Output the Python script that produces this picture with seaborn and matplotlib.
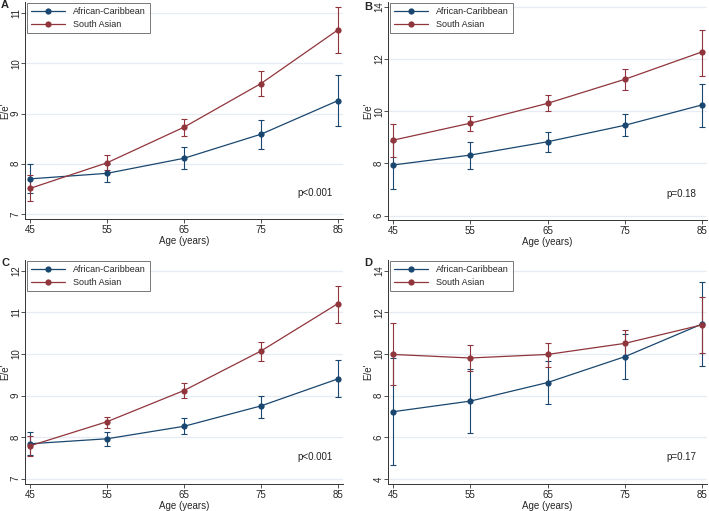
import matplotlib
matplotlib.use("Agg")
import matplotlib.pyplot as plt
from matplotlib.lines import Line2D
import pandas as pd
import seaborn as sns

ages = [45, 55, 65, 75, 85]
groups = ["African-Caribbean", "South Asian"]

# panel A
a_ac = [7.70, 7.81, 8.11, 8.59, 9.26]
a_ac_lo = [7.41, 7.63, 7.89, 8.30, 8.75]
a_ac_hi = [7.99, 7.99, 8.33, 8.88, 9.77]
a_sa = [7.51, 8.02, 8.73, 9.60, 10.67]
a_sa_lo = [7.25, 7.88, 8.55, 9.35, 10.20]
a_sa_hi = [7.77, 8.17, 8.90, 9.85, 11.13]

# panel B
b_ac = [7.94, 8.32, 8.83, 9.46, 10.24]
b_ac_lo = [7.01, 7.79, 8.43, 9.04, 9.41]
b_ac_hi = [8.87, 8.83, 9.22, 9.90, 11.04]
b_sa = [8.89, 9.54, 10.30, 11.22, 12.27]
b_sa_lo = [8.26, 9.24, 10.00, 10.81, 11.35]
b_sa_hi = [9.51, 9.82, 10.61, 11.61, 13.11]

# panel C
c_ac = [7.84, 7.96, 8.26, 8.75, 9.40]
c_ac_lo = [7.57, 7.79, 8.07, 8.47, 8.96]
c_ac_hi = [8.12, 8.13, 8.45, 8.98, 9.85]
c_sa = [7.79, 8.37, 9.12, 10.07, 11.21]
c_sa_lo = [7.54, 8.23, 8.95, 9.84, 10.74]
c_sa_hi = [8.03, 8.49, 9.29, 10.29, 11.64]

# panel D
d_ac = [7.23, 7.74, 8.63, 9.87, 11.44]
d_ac_lo = [4.67, 6.21, 7.60, 8.78, 9.42]
d_ac_hi = [9.79, 9.27, 9.66, 10.96, 13.47]
d_sa = [9.98, 9.81, 9.98, 10.51, 11.40]
d_sa_lo = [8.51, 9.18, 9.40, 9.87, 10.07]
d_sa_hi = [11.47, 10.43, 10.55, 11.15, 12.72]

p_values = ["p<0.001", "p=0.18", "p<0.001", "p=0.17"]
panel_letters = ["A", "B", "C", "D"]
y_ticks = [[7, 8, 9, 10, 11], [6, 8, 10, 12, 14], [7, 8, 9, 10, 11, 12], [4, 6, 8, 10, 12, 14]]

NAVY = "#1a476f"
MAROON = "#90353b"
GRID = "#e6ecf2"
palette = {groups[0]: NAVY, groups[1]: MAROON}

sns.set_style("ticks")
plt.rcParams["font.family"] = ["Liberation Sans", "DejaVu Sans"]

panels = [
    (a_ac, a_ac_lo, a_ac_hi, a_sa, a_sa_lo, a_sa_hi),
    (b_ac, b_ac_lo, b_ac_hi, b_sa, b_sa_lo, b_sa_hi),
    (c_ac, c_ac_lo, c_ac_hi, c_sa, c_sa_lo, c_sa_hi),
    (d_ac, d_ac_lo, d_ac_hi, d_sa, d_sa_lo, d_sa_hi),
]

W, H = 709, 511
# pixel boxes: left, top, right, bottom, ylim, letter centre y
boxes = [
    (25, 2, 343, 219, (6.9, 11.225), 5),
    (388, 2, 707, 220, (5.835, 14.18), 6.5),
    (25, 260, 343, 484, (6.873, 12.257), 263),
    (388, 260, 707, 484, (3.76, 14.514), 263),
]

fig = plt.figure(figsize=(W / 100, H / 100), dpi=100)

for i, (vals, box) in enumerate(zip(panels, boxes)):
    ac, ac_lo, ac_hi, sa, sa_lo, sa_hi = vals
    left, top, right, bottom, ylim, let_y = box
    w_px, h_px = right - left, bottom - top
    ax = fig.add_axes([left / W, 1 - bottom / H, w_px / W, h_px / H])

    df = pd.DataFrame({
        "age": ages * 2,
        "ee": ac + sa,
        "group": [groups[0]] * 5 + [groups[1]] * 5,
    })
    for ticky in y_ticks[i]:
        ax.axhline(ticky, color=GRID, lw=0.9, zorder=0)

    for g, m, lo, hi in [(groups[0], ac, ac_lo, ac_hi), (groups[1], sa, sa_lo, sa_hi)]:
        ax.errorbar(ages, m, yerr=[[a - b for a, b in zip(m, lo)], [b - a for a, b in zip(m, hi)]],
                    fmt="none", ecolor=palette[g], elinewidth=0.8, capsize=2.3, capthick=0.8, zorder=2)
    sns.lineplot(data=df, x="age", y="ee", hue="group", hue_order=groups, palette=palette,
                 marker="o", markersize=4.5, markeredgewidth=0, linewidth=0.9,
                 errorbar=None, legend=False, ax=ax, zorder=3)

    ax.set_xlim(44.35, 85.65)
    ax.set_ylim(*ylim)
    ax.set_xticks(ages)
    ax.set_yticks(y_ticks[i])
    ax.set_xlabel("Age (years)", fontsize=7)
    ax.set_ylabel("E/e'", fontsize=7)
    ax.xaxis.set_label_coords(0.5, -22 / h_px)
    ax.xaxis.label.set_va("center")
    ax.yaxis.set_label_coords(-20 / w_px, 0.5)
    ax.yaxis.label.set_va("center")
    ax.tick_params(axis="x", labelsize=7, length=3, width=0.6, pad=1.5, color="#333333")
    ax.tick_params(axis="y", labelsize=7, length=3, width=0.6, pad=0, color="#333333")
    for lab in ax.get_yticklabels():
        lab.set_rotation(90)
        lab.set_va("center")
    for s in ["top", "right"]:
        ax.spines[s].set_visible(False)
    for s in ["left", "bottom"]:
        ax.spines[s].set_linewidth(0.7)
        ax.spines[s].set_color("#333333")
    ax.set_facecolor("white")

    handles = [Line2D([], [], color=palette[g], marker="o", markersize=4.5, markeredgewidth=0, lw=0.9)
               for g in groups]
    leg = ax.legend(handles, groups, loc="upper left", bbox_to_anchor=(0.006, 0.995), borderaxespad=0,
                    fontsize=6.5, frameon=True, fancybox=False, edgecolor="#555555",
                    handlelength=3.8, handletextpad=0.9, labelspacing=0.45, borderpad=0.45)
    leg.get_frame().set_linewidth(0.7)

    ax.text(0.966, 0.12, p_values[i], transform=ax.transAxes, ha="right", va="center",
            fontsize=7, color="#222222")
    fig.text((left - 24) / W, 1 - let_y / H, panel_letters[i], fontsize=8, fontweight="bold",
             ha="left", va="center")

fig.savefig("out.png", dpi=100, facecolor="white")
